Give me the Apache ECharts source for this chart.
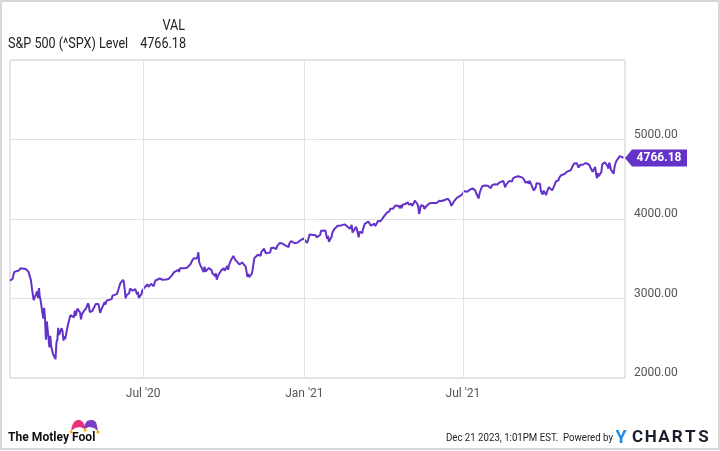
<!DOCTYPE html>
<html><head><meta charset="utf-8">
<script src="https://cdn.jsdelivr.net/npm/echarts@6/dist/echarts.min.js"></script>
<style>html,body{margin:0;padding:0;background:#fff}#c{width:720px;height:451px}</style>
</head><body><div id="c"></div>
<script>
// ---- DATA ----
const seriesName = 'S&P 500 (^SPX) Level';
const days2020 = [
'01-31',
'02-03','02-04','02-05','02-06','02-07','02-10','02-11','02-12','02-13','02-14','02-18','02-19','02-20','02-21','02-24','02-25','02-26','02-27','02-28',
'03-02','03-03','03-04','03-05','03-06','03-09','03-10','03-11','03-12','03-13','03-16','03-17','03-18','03-19','03-20','03-23','03-24','03-25','03-26','03-27','03-30','03-31',
'04-01','04-02','04-03','04-06','04-07','04-08','04-09','04-13','04-14','04-15','04-16','04-17','04-20','04-21','04-22','04-23','04-24','04-27','04-28','04-29','04-30',
'05-01','05-04','05-05','05-06','05-07','05-08','05-11','05-12','05-13','05-14','05-15','05-18','05-19','05-20','05-21','05-22','05-26','05-27','05-28','05-29',
'06-01','06-02','06-03','06-04','06-05','06-08','06-09','06-10','06-11','06-12','06-15','06-16','06-17','06-18','06-19','06-22','06-23','06-24','06-25','06-26','06-29','06-30',
'07-01','07-02','07-06','07-07','07-08','07-09','07-10','07-13','07-14','07-15','07-16','07-17','07-20','07-21','07-22','07-23','07-24','07-27','07-28','07-29','07-30','07-31',
'08-03','08-04','08-05','08-06','08-07','08-10','08-11','08-12','08-13','08-14','08-17','08-18','08-19','08-20','08-21','08-24','08-25','08-26','08-27','08-28','08-31',
'09-01','09-02','09-03','09-04','09-08','09-09','09-10','09-11','09-14','09-15','09-16','09-17','09-18','09-21','09-22','09-23','09-24','09-25','09-28','09-29','09-30',
'10-01','10-02','10-05','10-06','10-07','10-08','10-09','10-12','10-13','10-14','10-15','10-16','10-19','10-20','10-21','10-22','10-23','10-26','10-27','10-28','10-29','10-30',
'11-02','11-03','11-04','11-05','11-06','11-09','11-10','11-11','11-12','11-13','11-16','11-17','11-18','11-19','11-20','11-23','11-24','11-25','11-27','11-30',
'12-01','12-02','12-03','12-04','12-07','12-08','12-09','12-10','12-11','12-14','12-15','12-16','12-17','12-18','12-21','12-22','12-23','12-24','12-28','12-29','12-30','12-31'
];
const close2020 = [
3225.52,
3248.92,3297.59,3334.69,3345.78,3327.71,3352.09,3357.75,3379.45,3373.94,3380.16,3370.29,3386.15,3373.23,3337.75,3225.89,3128.21,3116.39,2978.76,2954.22,
3090.23,3003.37,3130.12,3023.94,2972.37,2746.56,2882.23,2741.38,2480.64,2711.02,2386.13,2529.19,2398.10,2409.39,2304.92,2237.40,2447.33,2475.56,2630.07,2541.47,2626.65,2584.59,
2470.50,2526.90,2488.65,2663.68,2659.41,2749.98,2789.82,2761.63,2846.06,2783.36,2799.55,2874.56,2823.16,2736.56,2799.31,2797.80,2836.74,2878.48,2863.39,2939.51,2912.43,
2830.71,2842.74,2868.44,2848.42,2881.19,2929.80,2930.32,2870.12,2820.00,2852.50,2863.70,2953.91,2922.94,2971.61,2948.51,2955.45,2991.77,3036.13,3029.73,3044.31,
3055.73,3080.82,3122.87,3112.35,3193.93,3232.39,3207.18,3190.14,3002.10,3041.31,3066.59,3124.74,3113.49,3115.34,3097.74,3117.86,3131.29,3050.33,3083.76,3009.05,3053.24,3100.29,
3115.86,3130.01,3179.72,3145.32,3169.94,3152.05,3185.04,3155.22,3197.52,3226.56,3215.57,3224.73,3251.84,3257.30,3276.02,3235.66,3215.63,3239.41,3218.44,3258.44,3246.22,3271.12,
3294.61,3306.51,3327.77,3349.16,3351.28,3360.47,3333.69,3380.35,3373.43,3372.85,3381.99,3389.78,3374.85,3385.51,3397.16,3431.28,3443.62,3478.73,3484.55,3508.01,3500.31,
3526.65,3580.84,3455.06,3426.96,3331.84,3398.96,3339.19,3340.97,3383.54,3401.20,3385.49,3357.01,3319.47,3281.06,3315.57,3236.92,3246.59,3298.46,3351.60,3335.47,3363.00,
3380.80,3348.42,3408.60,3360.97,3419.44,3446.83,3477.14,3534.22,3511.93,3488.67,3483.34,3483.81,3426.92,3443.12,3435.56,3453.49,3465.39,3400.97,3390.68,3271.03,3310.11,3269.96,
3310.24,3369.16,3443.44,3510.45,3509.44,3550.50,3545.53,3572.66,3537.01,3585.15,3626.91,3609.53,3567.79,3581.87,3557.54,3577.59,3635.41,3629.65,3638.35,3621.63,
3662.45,3669.01,3666.72,3699.12,3691.96,3702.25,3672.82,3668.10,3663.46,3647.49,3694.62,3701.17,3722.48,3709.41,3694.92,3687.26,3690.01,3703.06,3735.36,3727.04,3732.04,3756.07
];
const days2021 = [
'01-04','01-05','01-06','01-07','01-08','01-11','01-12','01-13','01-14','01-15','01-19','01-20','01-21','01-22','01-25','01-26','01-27','01-28','01-29',
'02-01','02-02','02-03','02-04','02-05','02-08','02-09','02-10','02-11','02-12','02-16','02-17','02-18','02-19','02-22','02-23','02-24','02-25','02-26',
'03-01','03-02','03-03','03-04','03-05','03-08','03-09','03-10','03-11','03-12','03-15','03-16','03-17','03-18','03-19','03-22','03-23','03-24','03-25','03-26','03-29','03-30','03-31',
'04-01','04-05','04-06','04-07','04-08','04-09','04-12','04-13','04-14','04-15','04-16','04-19','04-20','04-21','04-22','04-23','04-26','04-27','04-28','04-29','04-30',
'05-03','05-04','05-05','05-06','05-07','05-10','05-11','05-12','05-13','05-14','05-17','05-18','05-19','05-20','05-21','05-24','05-25','05-26','05-27','05-28',
'06-01','06-02','06-03','06-04','06-07','06-08','06-09','06-10','06-11','06-14','06-15','06-16','06-17','06-18','06-21','06-22','06-23','06-24','06-25','06-28','06-29','06-30',
'07-01','07-02','07-06','07-07','07-08','07-09','07-12','07-13','07-14','07-15','07-16','07-19','07-20','07-21','07-22','07-23','07-26','07-27','07-28','07-29','07-30',
'08-02','08-03','08-04','08-05','08-06','08-09','08-10','08-11','08-12','08-13','08-16','08-17','08-18','08-19','08-20','08-23','08-24','08-25','08-26','08-27','08-30','08-31',
'09-01','09-02','09-03','09-07','09-08','09-09','09-10','09-13','09-14','09-15','09-16','09-17','09-20','09-21','09-22','09-23','09-24','09-27','09-28','09-29','09-30',
'10-01','10-04','10-05','10-06','10-07','10-08','10-11','10-12','10-13','10-14','10-15','10-18','10-19','10-20','10-21','10-22','10-25','10-26','10-27','10-28','10-29',
'11-01','11-02','11-03','11-04','11-05','11-08','11-09','11-10','11-11','11-12','11-15','11-16','11-17','11-18','11-19','11-22','11-23','11-24','11-26','11-29','11-30',
'12-01','12-02','12-03','12-06','12-07','12-08','12-09','12-10','12-13','12-14','12-15','12-16','12-17','12-20','12-21','12-22','12-23','12-27','12-28','12-29','12-30','12-31'
];
const close2021 = [
3700.65,3726.86,3748.14,3803.79,3824.68,3799.61,3801.19,3809.84,3795.54,3768.25,3798.91,3851.85,3853.07,3841.47,3855.36,3849.62,3750.77,3787.38,3714.24,
3773.86,3826.31,3830.17,3871.74,3886.83,3915.59,3911.23,3909.88,3916.38,3934.83,3932.59,3931.33,3913.97,3906.71,3876.50,3881.37,3925.43,3829.34,3811.15,
3901.82,3870.29,3819.72,3768.47,3841.94,3821.35,3875.44,3898.81,3939.34,3943.34,3968.94,3962.71,3974.12,3915.46,3913.10,3940.59,3910.52,3889.14,3909.52,3974.54,3971.09,3958.55,3972.89,
4019.87,4077.91,4073.94,4079.95,4097.17,4128.80,4127.99,4141.59,4124.66,4170.42,4185.47,4163.26,4134.94,4173.42,4134.98,4180.17,4187.62,4186.72,4183.18,4211.47,4181.17,
4192.66,4164.66,4167.59,4201.62,4232.60,4188.43,4152.10,4063.04,4112.50,4173.85,4163.29,4127.83,4115.68,4159.12,4155.86,4197.05,4188.13,4195.99,4200.88,4204.11,
4202.04,4208.12,4192.85,4229.89,4226.52,4227.26,4219.55,4239.18,4247.44,4255.15,4246.59,4223.70,4221.86,4166.45,4224.79,4246.44,4241.84,4266.49,4280.70,4290.61,4291.80,4297.50,
4319.94,4352.34,4343.54,4358.13,4320.82,4369.55,4384.63,4369.21,4374.30,4360.03,4327.16,4258.49,4323.06,4358.69,4367.48,4411.79,4422.30,4401.46,4400.64,4419.15,4395.26,
4387.16,4423.15,4402.66,4429.10,4436.52,4432.35,4436.75,4447.70,4460.83,4468.00,4479.71,4448.08,4400.27,4405.80,4441.67,4479.53,4486.23,4496.19,4470.00,4509.37,4528.79,4522.68,
4524.09,4536.95,4535.43,4520.03,4514.07,4493.28,4458.58,4468.73,4443.05,4480.70,4473.75,4432.99,4357.73,4354.19,4395.64,4448.98,4455.48,4443.11,4352.63,4359.46,4307.54,
4357.04,4300.46,4345.72,4363.55,4399.76,4391.34,4361.19,4350.65,4363.80,4438.26,4471.37,4486.46,4519.63,4536.19,4549.78,4544.90,4566.48,4574.79,4551.68,4596.42,4605.38,
4613.67,4630.65,4660.57,4680.06,4697.53,4701.70,4685.25,4646.71,4649.27,4682.85,4682.80,4700.90,4688.67,4704.54,4697.96,4682.94,4690.70,4701.46,4594.62,4655.27,4567.00,
4513.04,4577.10,4538.43,4591.67,4686.75,4701.21,4667.45,4712.02,4668.97,4634.09,4709.85,4668.67,4620.64,4568.02,4649.23,4696.56,4725.79,4791.19,4786.35,4793.06,4778.73,4766.18
];
const xTickDates = ['2020-07-01', '2021-01-01', '2021-07-01'];
const xTickLabels = ["Jul '20", "Jan '21", "Jul '21"];
const xRange = ['2020-01-31', '2022-01-02'];
const yRange = [2000, 6000];
const yStep = 1000;

// ---- BUILD ----
const ts = s => { const p = s.split('-').map(Number); return new Date(p[0], p[1] - 1, p[2]).getTime(); };
const points = [];
days2020.forEach((d, i) => points.push([ts('2020-' + d), close2020[i]]));
days2021.forEach((d, i) => points.push([ts('2021-' + d), close2021[i]]));
const lastValue = points[points.length - 1][1];
const tickTs = xTickDates.map(ts);

const PURPLE = '#6332c9';
const FONT = 'Roboto, "Noto Sans", sans-serif';
const SX = 0.9;

const brandLetters = 'CHARTS'.split('').map((ch, i) => ({
  type: 'text', x: 637.5 + i * 13.2, y: 438,
  style: { text: ch, align: 'center', verticalAlign: 'middle', font: 'bold 17px ' + FONT, fill: '#1a1d2b' }
}));

const chart = echarts.init(document.getElementById('c'), null, { renderer: 'canvas' });
chart.setOption({
  animation: false,
  backgroundColor: '#ffffff',
  grid: { left: 10, top: 60, right: 95, bottom: 73, show: true, borderColor: '#cccccc', borderWidth: 1, backgroundColor: 'transparent', containLabel: false },
  xAxis: {
    type: 'time', min: ts(xRange[0]), max: ts(xRange[1]),
    axisLine: { show: false }, axisTick: { show: false }, splitLine: { show: false },
    axisLabel: { show: false }
  },
  yAxis: {
    type: 'value', position: 'right', min: yRange[0], max: yRange[1], interval: yStep,
    axisLine: { show: false }, axisTick: { show: false },
    splitLine: { show: true, lineStyle: { color: '#e2e2e2', width: 1 } },
    axisLabel: {
      color: '#555', fontSize: 12, fontFamily: FONT, margin: 9, verticalAlign: 'bottom', padding: [0, 0, -1, 0],
      showMaxLabel: false, showMinLabel: true,
      formatter: v => v.toFixed(2)
    }
  },
  series: [{
    name: seriesName, type: 'line', data: points, showSymbol: false, symbol: 'none',
    lineStyle: { color: PURPLE, width: 2 }, itemStyle: { color: PURPLE },
    markLine: {
      silent: true, symbol: 'none', animation: false,
      label: { show: true, position: 'start', distance: 10, formatter: '{b}', color: '#555', fontSize: 12, fontFamily: FONT },
      lineStyle: { color: '#e2e2e2', type: 'solid', width: 1 },
      emphasis: { disabled: true },
      data: tickTs.map((t, i) => ({ xAxis: t, name: xTickLabels[i] }))
    },
    markPoint: {
      silent: true, animation: false,
      symbol: 'path://M0,8.5L7,0L62,0L62,17L7,17Z',
      symbolSize: [62, 17], symbolOffset: [31, 0], symbolKeepAspect: false,
      itemStyle: { color: PURPLE },
      label: { show: true, position: 'inside', offset: [3, 0], color: '#fff', fontWeight: 'bold', fontSize: 12, fontFamily: FONT,
        formatter: p => p.value.toFixed(2) },
      data: [{ coord: [ts(xRange[1]), lastValue], value: lastValue }]
    }
  }],
  graphic: [
    { type: 'rect', shape: { x: 1, y: 1, width: 718, height: 448 }, style: { fill: 'none', stroke: '#cccccc', lineWidth: 1.5 }, silent: true, z: 0 },
    { type: 'text', x: 185, y: 26, scaleX: SX, style: { text: 'VAL', align: 'right', verticalAlign: 'middle', font: '14px ' + FONT, fill: '#222' } },
    { type: 'text', x: 8, y: 44, scaleX: SX, style: { text: seriesName, align: 'left', verticalAlign: 'middle', font: '14px ' + FONT, fill: '#222' } },
    { type: 'text', x: 186, y: 44, scaleX: SX, style: { text: lastValue.toFixed(2), align: 'right', verticalAlign: 'middle', font: '14px ' + FONT, fill: '#222' } },
    { type: 'polygon', shape: { points: [[71,431],[72,426],[74,422],[77,420],[80,420],[83,422],[85,426],[85,429],[80,427],[75,428]] }, style: { fill: '#e8337a' } },
    { type: 'polygon', shape: { points: [[84,429],[85,424],[87,421],[90,420],[93,420],[96,422],[97,426],[98,431],[94,428],[89,427]] }, style: { fill: '#7d3fc6' } },
    { type: 'circle', shape: { cx: 71, cy: 432, r: 1.6 }, style: { fill: '#f5b400' } },
    { type: 'circle', shape: { cx: 85, cy: 430, r: 1.6 }, style: { fill: '#f5b400' } },
    { type: 'circle', shape: { cx: 98, cy: 432, r: 1.6 }, style: { fill: '#f5b400' } },
    { type: 'text', x: 8, y: 438, scaleX: 0.93, style: { text: 'The Motley Fool', align: 'left', verticalAlign: 'middle', font: 'bold 13px ' + FONT, fill: '#111' } },
    { type: 'text', x: 613, y: 438, scaleX: 0.84, style: { text: 'Dec 21 2023, 1:01PM EST.  Powered by', align: 'right', verticalAlign: 'middle', font: '11.5px ' + FONT, fill: '#222' } },
    { type: 'text', x: 621, y: 438, style: { text: 'Y', align: 'center', verticalAlign: 'middle', font: 'bold 18px ' + FONT, fill: '#1f8de6' } }
  ].concat(brandLetters)
});
</script>
</body></html>
